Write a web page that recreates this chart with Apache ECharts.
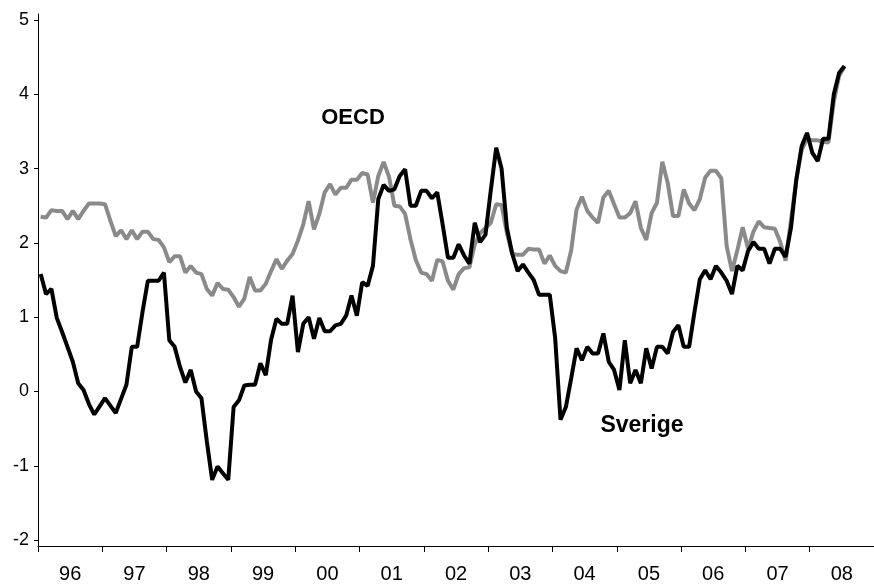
<!DOCTYPE html>
<html>
<head>
<meta charset="utf-8">
<script src="https://cdn.jsdelivr.net/npm/echarts@6/dist/echarts.min.js"></script>
<style>html,body{margin:0;padding:0;background:#fff}#c{width:874px;height:584px}</style>
</head>
<body>
<div id="c"></div>
<script>
const yearLabels = ['96','97','98','99','00','01','02','03','04','05','06','07','08'];
const firstYear = 1996;
const months = [];
for (let y = 0; y < yearLabels.length; y++) {
  for (let m = 1; m <= 12; m++) months.push((firstYear + y) + '-' + (m < 10 ? '0' + m : m));
}
const yTicks = [-2, -1, 0, 1, 2, 3, 4, 5];

// Sverige, monthly from Jan 1996 to Jul 2008
const sverige = [
  1.58, 1.31, 1.38, 0.99, 0.80, 0.60, 0.40, 0.11, 0.02, -0.17, -0.31, -0.20,
  -0.09, -0.19, -0.29, -0.10, 0.09, 0.60, 0.60, 1.07, 1.49, 1.49, 1.49, 1.60,
  0.69, 0.60, 0.33, 0.12, 0.29, 0.00, -0.09, -0.67, -1.19, -1.01, -1.10, -1.19,
  -0.21, -0.12, 0.08, 0.09, 0.09, 0.38, 0.22, 0.70, 0.98, 0.91, 0.91, 1.29,
  0.53, 0.91, 1.00, 0.71, 0.99, 0.81, 0.81, 0.89, 0.91, 1.02, 1.29, 1.02,
  1.47, 1.42, 1.69, 2.59, 2.78, 2.70, 2.72, 2.90, 2.99, 2.50, 2.50, 2.70,
  2.70, 2.60, 2.68, 2.25, 1.80, 1.80, 1.98, 1.83, 1.72, 2.27, 2.01, 2.11,
  2.71, 3.28, 3.00, 2.20, 1.85, 1.62, 1.71, 1.60, 1.50, 1.30, 1.30, 1.30,
  0.72, -0.38, -0.21, 0.18, 0.58, 0.42, 0.60, 0.51, 0.51, 0.78, 0.40, 0.29,
  0.02, 0.69, 0.11, 0.29, 0.11, 0.58, 0.31, 0.60, 0.60, 0.51, 0.80, 0.89,
  0.60, 0.60, 1.07, 1.51, 1.63, 1.51, 1.69, 1.60, 1.49, 1.31, 1.69, 1.63,
  1.89, 2.01, 1.92, 1.92, 1.72, 1.92, 1.92, 1.81, 2.20, 2.85, 3.30, 3.48,
  3.21, 3.10, 3.40, 3.40, 4.00, 4.29, 4.38
];

// OECD, monthly from Jan 1996 to Jul 2008
const oecd = [
  2.35, 2.34, 2.44, 2.43, 2.43, 2.32, 2.43, 2.32, 2.43, 2.53, 2.53, 2.53,
  2.52, 2.30, 2.09, 2.17, 2.05, 2.17, 2.05, 2.15, 2.15, 2.05, 2.04, 1.94,
  1.74, 1.82, 1.82, 1.60, 1.69, 1.60, 1.58, 1.38, 1.29, 1.46, 1.38, 1.37,
  1.27, 1.14, 1.25, 1.54, 1.36, 1.36, 1.45, 1.62, 1.78, 1.65, 1.76, 1.85,
  2.03, 2.25, 2.56, 2.18, 2.39, 2.68, 2.79, 2.65, 2.74, 2.74, 2.85, 2.85,
  2.94, 2.92, 2.54, 2.90, 3.09, 2.89, 2.50, 2.49, 2.39, 2.05, 1.77, 1.60,
  1.58, 1.49, 1.77, 1.75, 1.49, 1.37, 1.58, 1.66, 1.67, 1.98, 2.13, 2.20,
  2.27, 2.52, 2.51, 2.13, 1.85, 1.84, 1.84, 1.92, 1.91, 1.91, 1.72, 1.83,
  1.69, 1.62, 1.60, 1.90, 2.45, 2.62, 2.43, 2.34, 2.27, 2.61, 2.70, 2.52,
  2.34, 2.34, 2.40, 2.56, 2.20, 2.04, 2.40, 2.54, 3.09, 2.81, 2.36, 2.36,
  2.72, 2.53, 2.44, 2.59, 2.88, 2.97, 2.97, 2.87, 1.96, 1.62, 1.90, 2.21,
  1.92, 2.15, 2.29, 2.21, 2.20, 2.19, 2.01, 1.76, 2.30, 2.85, 3.25, 3.40,
  3.38, 3.38, 3.36, 3.35, 3.90, 4.25, 4.37
];

const FONT = '"Liberation Sans", Arial, sans-serif';
const chart = echarts.init(document.getElementById('c'), null, { renderer: 'canvas' });
chart.setOption({
  animation: false,
  backgroundColor: '#ffffff',
  grid: { left: 38, top: 14, width: 855.3, height: 534.3, containLabel: false },
  xAxis: [
    {
      type: 'category', data: months, position: 'bottom', boundaryGap: true,
      axisLine: { show: false, onZero: false }, axisTick: { show: false },
      axisLabel: { show: false }, splitLine: { show: false }
    },
    {
      type: 'category', data: yearLabels, position: 'bottom', boundaryGap: true,
      axisLine: { show: true, onZero: false, lineStyle: { color: '#000', width: 1 } },
      axisTick: { show: true, length: 6, lineStyle: { color: '#000', width: 1 } },
      axisLabel: { color: '#000', fontSize: 20, fontFamily: FONT, margin: 18 },
      splitLine: { show: false }
    }
  ],
  yAxis: {
    type: 'value', min: -2.08, max: 5.08,
    axisLine: { show: true, lineStyle: { color: '#000', width: 1 } },
    axisTick: { show: true, length: 4, customValues: yTicks, lineStyle: { color: '#000', width: 1 } },
    axisLabel: { customValues: yTicks, color: '#000', fontSize: 18, fontFamily: FONT, margin: 9 },
    splitLine: { show: false }
  },
  series: [
    {
      name: 'OECD', type: 'line', xAxisIndex: 0, data: oecd, symbol: 'none',
      lineStyle: { color: '#8a8a8a', width: 4 }
    },
    {
      name: 'Sverige', type: 'line', xAxisIndex: 0, data: sverige, symbol: 'none',
      lineStyle: { color: '#000000', width: 4 }
    }
  ],
  graphic: [
    { type: 'text', x: 353, y: 118, style: { text: 'OECD', font: 'bold 22px ' + FONT, fill: '#000', align: 'center', verticalAlign: 'middle' } },
    { type: 'text', x: 642, y: 426, style: { text: 'Sverige', font: 'bold 23px ' + FONT, fill: '#000', align: 'center', verticalAlign: 'middle' } }
  ]
});
</script>
</body>
</html>
